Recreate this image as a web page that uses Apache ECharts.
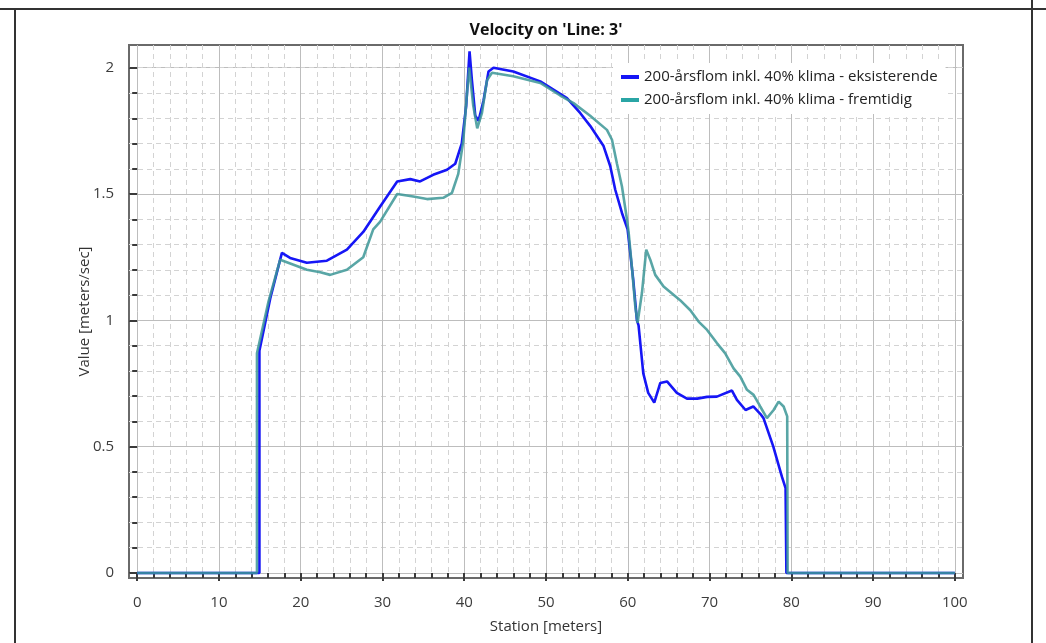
<!DOCTYPE html>
<html>
<head>
<meta charset="utf-8">
<title>Velocity on 'Line: 3'</title>
<script src="https://cdn.jsdelivr.net/npm/echarts@6/dist/echarts.min.js"></script>
<style>
  html, body { margin: 0; padding: 0; background: #ffffff; }
  #chart { width: 1046px; height: 643px; }
</style>
</head>
<body>
<div id="chart"></div>
<script>
// Station (m) and velocity (m/s) along the cross section, existing situation
const stationsExisting = [
  0, 14.95, 14.95, 16.3, 17.7, 18.7, 20.75, 23.2, 25.65, 27.65, 29.7, 31.8, 33.4, 34.6,
  36.2, 37.9, 38.9, 39.7, 40.24, 40.65, 40.94, 41.35, 41.75, 42.36, 42.97, 43.58, 46.0,
  49.3, 52.56, 54.2, 55.4, 57.04, 57.86, 58.47, 59.29, 59.98, 60.67, 61.12, 61.32, 61.9,
  62.5, 63.24, 63.98, 64.8, 66.0, 67.24, 68.5, 69.7, 70.9, 72.74, 73.35, 74.4, 75.35,
  76.2, 76.6, 77.8, 78.86, 79.3, 79.4, 100
];
const velocityExisting = [
  0, 0, 0.88, 1.09, 1.267, 1.247, 1.228, 1.236, 1.28, 1.35, 1.45, 1.55, 1.559, 1.55,
  1.576, 1.596, 1.62, 1.70, 1.85, 2.065, 1.95, 1.81, 1.79, 1.87, 1.985, 2.0, 1.985,
  1.946, 1.88, 1.82, 1.77, 1.69, 1.61, 1.517, 1.425, 1.36, 1.16, 1.0, 0.98, 0.79,
  0.713, 0.674, 0.752, 0.758, 0.713, 0.69, 0.69, 0.697, 0.698, 0.722, 0.685, 0.645, 0.659,
  0.63, 0.613, 0.50, 0.38, 0.336, 0, 0
];

// Station (m) and velocity (m/s), future situation
const stationsFuture = [
  0, 14.65, 14.65, 16.06, 17.49, 20.75, 22.4, 23.6, 25.65, 27.65, 28.87, 29.7, 31.8,
  33.76, 35.44, 37.43, 38.5, 39.27, 39.88, 40.37, 40.61, 41.1, 41.59, 42.16, 42.78,
  43.39, 46.0, 49.3, 51.74, 53.37, 55.4, 57.45, 58.07, 58.68, 59.29, 59.9, 60.1, 60.5,
  60.92, 61.2, 61.74, 62.26, 62.75, 63.36, 64.38, 66.4, 67.65, 68.66, 69.7, 70.9, 71.9,
  72.94, 73.76, 74.58, 75.39, 76.2, 77.02, 77.84, 78.45, 79.06, 79.5, 79.55, 100
];
const velocityFuture = [
  0, 0, 0.87, 1.074, 1.24, 1.20, 1.19, 1.18, 1.20, 1.25, 1.36, 1.39, 1.50,
  1.49, 1.48, 1.485, 1.505, 1.58, 1.71, 1.91, 2.0, 1.85, 1.76, 1.82, 1.95,
  1.98, 1.966, 1.94, 1.89, 1.86, 1.81, 1.754, 1.715, 1.62, 1.53, 1.40, 1.35, 1.213,
  1.055, 0.99, 1.11, 1.28, 1.24, 1.18, 1.134, 1.08, 1.04, 0.995, 0.962, 0.91, 0.87,
  0.81, 0.777, 0.725, 0.705, 0.659, 0.613, 0.645, 0.678, 0.659, 0.62, 0, 0
];

const seriesNames = [
  '200-årsflom inkl. 40% klima - eksisterende',
  '200-årsflom inkl. 40% klima - fremtidig'
];

// Axis ticks
const xMajorTicks = [0, 10, 20, 30, 40, 50, 60, 70, 80, 90, 100];
const xMinorTicks = [2, 4, 6, 8, 12, 14, 16, 18, 22, 24, 26, 28, 32, 34, 36, 38, 42, 44, 46, 48,
  52, 54, 56, 58, 62, 64, 66, 68, 72, 74, 76, 78, 82, 84, 86, 88, 92, 94, 96, 98];
const yMajorTicks = [0, 0.5, 1, 1.5, 2];
const yMinorTicks = [0.1, 0.2, 0.3, 0.4, 0.6, 0.7, 0.8, 0.9, 1.1, 1.2, 1.3, 1.4,
  1.6, 1.7, 1.8, 1.9, 2.0];

const X_MIN = -1, X_MAX = 101;
const Y_MIN = -0.02, Y_MAX = 2.09;

const FONT = '"Open Sans", "Noto Sans", sans-serif';
const BLUE = '#1616f6';
const TEAL = '#2aa5a5';

function pairs(xs, ys) {
  return xs.map((x, i) => [x, ys[i]]);
}

const chart = echarts.init(document.getElementById('chart'), null, { renderer: 'canvas' });

const majorAxisCommon = {
  type: 'value',
  axisLine: { show: false },
  axisTick: { show: true, inside: false, length: 8, lineStyle: { color: '#3a3a3a', width: 2 } },
  axisLabel: { show: true, color: '#3c3c3c', fontSize: 15, fontFamily: FONT },
  splitLine: { show: true, lineStyle: { color: '#bdbdbd', width: 1 } }
};
const minorAxisCommon = {
  type: 'value',
  axisLine: { show: false },
  axisTick: { show: true, inside: false, length: 5, lineStyle: { color: '#3a3a3a', width: 2 } },
  axisLabel: { show: false },
  splitLine: { show: true, lineStyle: { color: '#d3d3d3', width: 1, type: [5, 4] } }
};

const option = {
  backgroundColor: '#ffffff',
  animation: false,
  textStyle: { fontFamily: FONT },
  grid: {
    left: 129, top: 45, width: 834, height: 533,
    show: true, backgroundColor: '#ffffff', borderColor: '#6a6a6a', borderWidth: 2
  },
  legend: {
    orient: 'vertical',
    left: 613, top: 63,
    padding: [6, 8, 6, 8],
    backgroundColor: '#ffffff',
    itemWidth: 18, itemHeight: 4, itemGap: 7,
    icon: 'rect',
    textStyle: { fontSize: 15, color: '#222', fontFamily: FONT, lineHeight: 16 },
    data: [
      { name: seriesNames[0], itemStyle: { color: BLUE } },
      { name: seriesNames[1], itemStyle: { color: TEAL } }
    ]
  },
  xAxis: [
    Object.assign({}, majorAxisCommon, {
      min: X_MIN, max: X_MAX,
      name: 'Station [meters]', nameLocation: 'middle', nameGap: 41,
      nameTextStyle: { fontSize: 15, color: '#333', fontFamily: FONT },
      axisTick: Object.assign({}, majorAxisCommon.axisTick, { customValues: xMajorTicks }),
      axisLabel: Object.assign({}, majorAxisCommon.axisLabel, { customValues: xMajorTicks, margin: 17 })
    }),
    Object.assign({}, minorAxisCommon, {
      min: X_MIN, max: X_MAX, position: 'bottom',
      axisTick: Object.assign({}, minorAxisCommon.axisTick, { customValues: xMinorTicks })
    })
  ],
  yAxis: [
    Object.assign({}, majorAxisCommon, {
      min: Y_MIN, max: Y_MAX,
      name: 'Value [meters/sec]', nameLocation: 'middle', nameGap: 37, nameMoveOverlap: false,
      nameTextStyle: { fontSize: 15, color: '#333', fontFamily: FONT },
      axisTick: Object.assign({}, majorAxisCommon.axisTick, { customValues: yMajorTicks }),
      axisLabel: Object.assign({}, majorAxisCommon.axisLabel, { customValues: yMajorTicks, margin: 15 })
    }),
    Object.assign({}, minorAxisCommon, {
      min: Y_MIN, max: Y_MAX, position: 'left',
      axisTick: Object.assign({}, minorAxisCommon.axisTick, { customValues: yMinorTicks })
    })
  ],
  graphic: [
    { type: 'line', shape: { x1: 0, y1: 9, x2: 1046, y2: 9 }, style: { stroke: '#333', lineWidth: 2 }, z: 100 },
    { type: 'line', shape: { x1: 15, y1: 9, x2: 15, y2: 643 }, style: { stroke: '#333', lineWidth: 2 }, z: 100 },
    { type: 'line', shape: { x1: 1032, y1: 0, x2: 1032, y2: 643 }, style: { stroke: '#333', lineWidth: 2 }, z: 100 },
    {
      type: 'text', x: 546, y: 30, z: 100,
      style: {
        text: "Velocity on 'Line: 3'", fill: '#111', font: 'bold 16px ' + FONT,
        textAlign: 'center', textVerticalAlign: 'middle'
      }
    }
  ],
  series: [
    {
      name: seriesNames[0], type: 'line', xAxisIndex: 0, yAxisIndex: 0,
      showSymbol: false, symbol: 'none', z: 3,
      itemStyle: { color: BLUE },
      lineStyle: { color: BLUE, width: 2.6 },
      data: pairs(stationsExisting, velocityExisting)
    },
    {
      name: seriesNames[1], type: 'line', xAxisIndex: 0, yAxisIndex: 0,
      showSymbol: false, symbol: 'none', z: 4,
      itemStyle: { color: TEAL },
      lineStyle: { color: 'rgba(60,150,150,0.85)', width: 2.6 },
      data: pairs(stationsFuture, velocityFuture)
    }
  ]
};

chart.setOption(option);
</script>
</body>
</html>
